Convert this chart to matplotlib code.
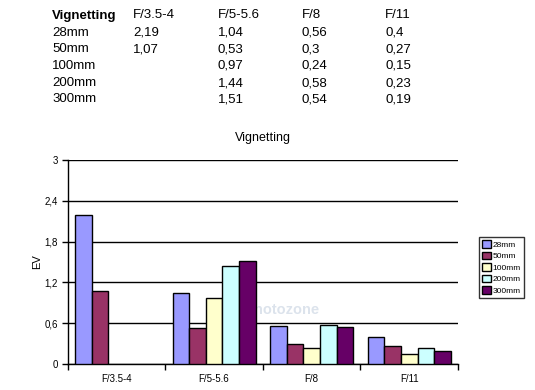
import numpy as np
import matplotlib.pyplot as plt

# values
groups = ["F/3.5-4", "F/5-5.6", "F/8", "F/11"]
series = ["28mm", "50mm", "100mm", "200mm", "300mm"]
v28 = [2.19, 1.04, 0.56, 0.4]
v50 = [1.07, 0.53, 0.3, 0.27]
v100 = [np.nan, 0.97, 0.24, 0.15]
v200 = [np.nan, 1.44, 0.58, 0.23]
v300 = [np.nan, 1.51, 0.54, 0.19]
values = [v28, v50, v100, v200, v300]
colors = ["#9999FF", "#993366", "#FFFFCC", "#CCFFFF", "#660066"]

def fmt(v):
    return "" if np.isnan(v) else ("%g" % v).replace(".", ",")

fig = plt.figure(figsize=(5.35, 3.9), dpi=100)
plt.rcParams['font.family'] = ['Liberation Sans', 'DejaVu Sans']

# table of values on top
colx = [52, 133, 218, 302, 385]
rowy = [18.5, 35.5, 52.2, 69, 86, 102.5]
fig.text(colx[0] / 535, 1 - rowy[0] / 390, "Vignetting", fontsize=9.5, weight="bold", va="baseline")
for j, g in enumerate(groups):
    fig.text(colx[j + 1] / 535, 1 - rowy[0] / 390, g, fontsize=9.5, va="baseline")
for i, s in enumerate(series):
    fig.text(colx[0] / 535, 1 - rowy[i + 1] / 390, s, fontsize=9.5, va="baseline")
    for j in range(len(groups)):
        fig.text(colx[j + 1] / 535, 1 - rowy[i + 1] / 390, fmt(values[i][j]), fontsize=9.5, va="baseline")

ax = fig.add_axes([67.7 / 535, 26 / 390, (458 - 67.7) / 535, 204 / 390])
w = 0.17
x = np.arange(len(groups)) + 0.5
for i, s in enumerate(series):
    ax.bar(x + (i - 2) * w, values[i], w, color=colors[i], edgecolor="black",
           linewidth=1, label=s, zorder=3)

ax.set_xlim(0, 4)
ax.set_ylim(0, 3)
yt = [0, 0.6, 1.2, 1.8, 2.4, 3]
ax.set_yticks(yt)
ax.set_yticklabels([("%g" % t).replace(".", ",") for t in yt], fontsize=7)
ax.yaxis.grid(True, color="black", linewidth=1, zorder=0)
ax.set_xticks([0, 1, 2, 3, 4])
ax.set_xticklabels([])
ax.set_xticks(x, minor=True)
ax.set_xticklabels(groups, minor=True, fontsize=7)
ax.tick_params(axis="x", which="minor", length=0, pad=7)
ax.tick_params(axis="x", which="major", length=4, width=1, direction="out")
ax.tick_params(axis="y", length=4, width=1, direction="out", pad=3)
for sp in ["top", "right"]:
    ax.spines[sp].set_visible(False)
for sp in ["left", "bottom"]:
    ax.spines[sp].set_linewidth(1)
ax.set_ylabel("EV", fontsize=8, labelpad=2)
ax.set_title("Vignetting", fontsize=9, pad=14)

# faint watermark behind the bars
ax.text(282 / 535, 1 - 310 / 390, "photozone", fontsize=10.5, color="#DCE3EC",
        ha="center", va="center", weight="bold", zorder=1, transform=fig.transFigure)

leg = ax.legend(loc="upper left", bbox_to_anchor=(479 / 535, 1 - 237 / 390),
                bbox_transform=fig.transFigure, fontsize=6, frameon=True,
                fancybox=False, edgecolor="black", handlelength=1, handleheight=1,
                handletextpad=0.2, labelspacing=0.35, borderpad=0.4, borderaxespad=0)
leg.get_frame().set_linewidth(1)

fig.savefig("out.png", dpi=100)
